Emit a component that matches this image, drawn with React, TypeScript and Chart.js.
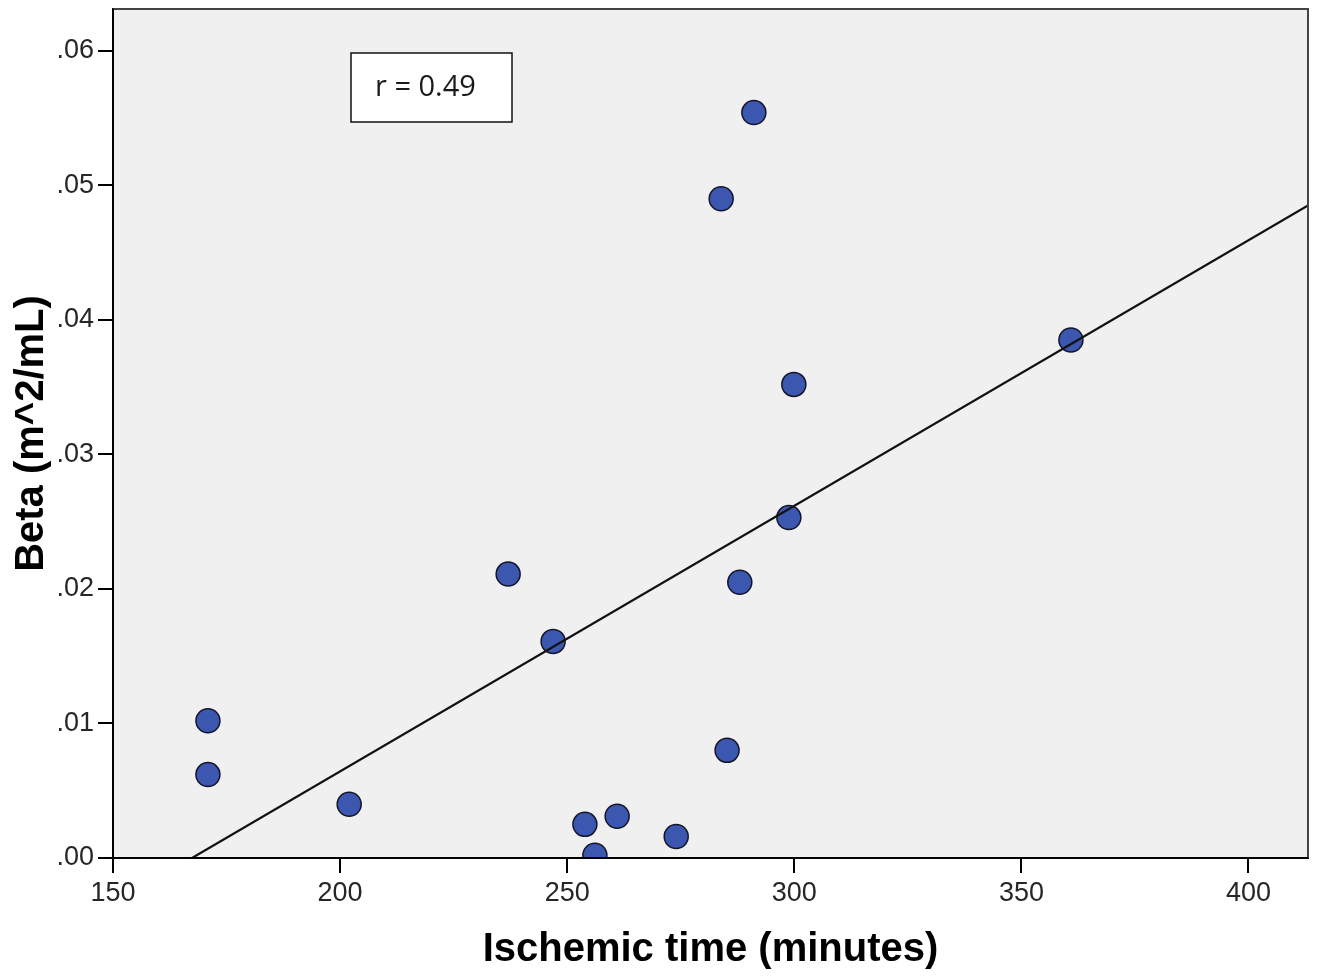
import React, { useEffect, useRef } from 'react';
import { Chart, registerables } from 'chart.js';

Chart.register(...registerables);

// ---- Data ----
const ischemicTime = [170.9, 170.9, 202.0, 237.0, 246.9, 253.9, 256.1, 261.0, 274.0, 283.9, 285.2, 288.0, 291.1, 298.8, 299.9, 360.9];
const beta = [0.0102, 0.0062, 0.0040, 0.0211, 0.0161, 0.0025, 0.0002, 0.0031, 0.0016, 0.0490, 0.0080, 0.0205, 0.0554, 0.0253, 0.0352, 0.0385];

// Fit line end points (as drawn in the reference)
const fitLineX = [167.4, 413.1];
const fitLineY = [0, 0.0485];

const xTicks = [150, 200, 250, 300, 350, 400];
const xTickLabels = ['150', '200', '250', '300', '350', '400'];
const yTicks = [0, 0.01, 0.02, 0.03, 0.04, 0.05, 0.06];
const yTickLabels = ['.00', '.01', '.02', '.03', '.04', '.05', '.06'];

const xAxisTitle = 'Ischemic time (minutes)';
const yAxisTitle = 'Beta (m^2/mL)';
const annotationText = 'r = 0.49';

const X_MIN = 150;
const X_MAX = 413.1;
const Y_MIN = 0;
const Y_MAX = 0.0631;

const plotFramePlugin = {
  id: 'plotFrame',
  beforeDraw(chart: any) {
    const { ctx, chartArea } = chart;
    ctx.save();
    ctx.fillStyle = '#ffffff';
    ctx.fillRect(0, 0, chart.width, chart.height);
    ctx.fillStyle = '#f0f0f0';
    ctx.fillRect(chartArea.left, chartArea.top, chartArea.right - chartArea.left, chartArea.bottom - chartArea.top);
    ctx.restore();
  },
  afterDatasetsDraw(chart: any) {
    const { ctx, chartArea } = chart;
    const { left, right, top, bottom } = chartArea;
    ctx.save();
    // top & right frame
    ctx.strokeStyle = '#444444';
    ctx.lineWidth = 2;
    ctx.beginPath();
    ctx.moveTo(left, top);
    ctx.lineTo(right, top);
    ctx.lineTo(right, bottom);
    ctx.stroke();
    // left & bottom axes
    ctx.strokeStyle = '#000000';
    ctx.beginPath();
    ctx.moveTo(left, top);
    ctx.lineTo(left, bottom);
    ctx.lineTo(right, bottom);
    ctx.stroke();

    // r annotation box
    const bx = left + 238;
    const by = top + 44;
    const bw = 161;
    const bh = 69;
    ctx.fillStyle = '#ffffff';
    ctx.fillRect(bx, by, bw, bh);
    ctx.strokeStyle = '#111111';
    ctx.lineWidth = 1.5;
    ctx.strokeRect(bx, by, bw, bh);
    ctx.fillStyle = '#1a1a1a';
    ctx.font = '29px "Open Sans", "Noto Sans", sans-serif';
    ctx.textAlign = 'left';
    ctx.textBaseline = 'middle';
    ctx.fillText(annotationText, bx + 24, by + bh / 2);
    ctx.restore();
  },
};

export default function App() {
  const canvasRef = useRef<HTMLCanvasElement | null>(null);

  useEffect(() => {
    const canvas = canvasRef.current;
    if (!canvas) return;

    const points = ischemicTime.map((x, i) => ({ x, y: beta[i] }));
    const line = fitLineX.map((x, i) => ({ x, y: fitLineY[i] }));

    const tickFont = { family: '"Liberation Sans", Arial, sans-serif', size: 27 };
    const titleFont = { family: '"Liberation Sans", Arial, sans-serif', size: 40, weight: 'bold' as const };

    const chart = new Chart(canvas, {
      type: 'scatter',
      data: {
        datasets: [
          {
            type: 'line',
            label: 'Fit',
            data: line,
            borderColor: '#111111',
            borderWidth: 2.2,
            pointRadius: 0,
            fill: false,
            order: 0,
            clip: 0,
          } as any,
          {
            type: 'scatter',
            label: 'Beta',
            data: points,
            pointRadius: 12,
            pointHoverRadius: 12,
            backgroundColor: '#3b57b0',
            borderColor: '#15152a',
            borderWidth: 1.5,
            order: 1,
            clip: 0,
          } as any,
        ],
      },
      options: {
        animation: false,
        responsive: false,
        devicePixelRatio: 1,
        layout: { autoPadding: false, padding: { top: 9, right: 12, left: 0, bottom: 0 } },
        plugins: {
          legend: { display: false },
          tooltip: { enabled: false },
        },
        scales: {
          x: {
            type: 'linear',
            min: X_MIN,
            max: X_MAX,
            afterBuildTicks: (s: any) => {
              s.ticks = xTicks.map((v) => ({ value: v }));
            },
            afterFit: (s: any) => {
              s.height = 122;
              s.paddingLeft = 0;
              s.paddingRight = 0;
            },
            ticks: {
              autoSkip: false,
              maxRotation: 0,
              padding: 4,
              color: '#262626',
              font: tickFont,
              callback: (v: any) => {
                const i = xTicks.indexOf(Number(v));
                return i >= 0 ? xTickLabels[i] : '';
              },
            },
            grid: {
              drawOnChartArea: false,
              drawTicks: true,
              tickLength: 15,
              color: '#000000',
              lineWidth: 2,
            },
            border: { display: true, color: '#000000', width: 2 },
            title: {
              display: true,
              text: xAxisTitle,
              color: '#000000',
              font: titleFont,
              padding: { top: 0, bottom: 6 },
            },
          },
          y: {
            type: 'linear',
            min: Y_MIN,
            max: Y_MAX,
            afterBuildTicks: (s: any) => {
              s.ticks = yTicks.map((v) => ({ value: v }));
            },
            afterFit: (s: any) => {
              s.width = 113;
              s.paddingTop = 0;
              s.paddingBottom = 0;
            },
            ticks: {
              autoSkip: false,
              padding: 4,
              color: '#262626',
              font: tickFont,
              callback: (v: any) => {
                const i = yTicks.findIndex((t) => Math.abs(t - Number(v)) < 1e-9);
                return i >= 0 ? yTickLabels[i] : '';
              },
            },
            grid: {
              drawOnChartArea: false,
              drawTicks: true,
              tickLength: 15,
              color: '#000000',
              lineWidth: 2,
            },
            border: { display: true, color: '#000000', width: 2 },
            title: {
              display: true,
              text: yAxisTitle,
              color: '#000000',
              font: titleFont,
              padding: { top: 8, bottom: 0 },
            },
          },
        },
      },
      plugins: [plotFramePlugin],
    });

    return () => {
      chart.destroy();
    };
  }, []);

  return (
    <div style={{ position: 'fixed', left: 0, top: 0, width: 1320, height: 980, background: '#ffffff' }}>
      <canvas ref={canvasRef} width={1320} height={980} style={{ display: 'block', width: 1320, height: 980 }} />
    </div>
  );
}
